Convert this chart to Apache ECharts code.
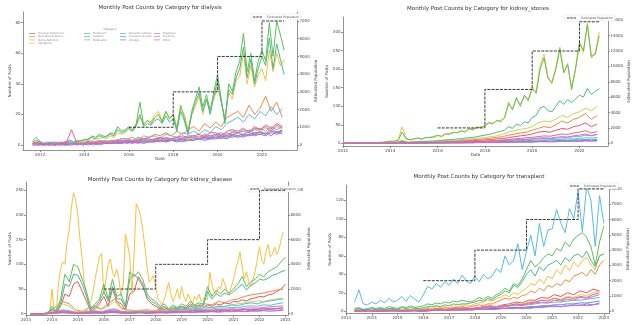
<!DOCTYPE html>
<html><head><meta charset="utf-8">
<script src="https://cdn.jsdelivr.net/npm/echarts@6/dist/echarts.min.js"></script>
<style>html,body{margin:0;padding:0;background:#fff}#c{width:632px;height:325px}</style>
</head><body><div id="c"></div>
<script>
// ---------- categories & colours ----------
const categories = ['Personal Experience','Questions & Advice','Diet & Nutrition','Symptoms','Treatment','Support','Medication','Research & News','Insurance & Cost','Lifestyle','Diagnosis','Recovery','Other'];
const palette = ['#e8575e','#f0894a','#f5c040','#c9d651','#5cc05a','#4db88a','#50c6c9','#56bde0','#5d8fe0','#8a6ee0','#c46ee0','#e66ac6','#e8638f'];

// ---------- estimated population (step) ----------
const popYears = [2016, 2018, 2020, 2022];
const diaPop = [1000, 3000, 5000, 7000];
const stPop = [2000, 7000, 12000, 15800];
const kdPop = [2000, 4000, 6000, 10000];
const txPop = [2000, 4000, 6000, 8000];

// ---------- tick labels ----------
const diaXTicks = [2012,2014,2016,2018,2020,2022];
const stXTicks = [2012,2014,2016,2018,2020,2022];
const kdXTicks = [2013,2014,2015,2016,2017,2018,2019,2020,2021,2022,2023];
const txXTicks = [2013,2014,2015,2016,2017,2018,2019,2020,2021,2022,2023];
const diaYTicks = [0,20,40,60,80];
const diaRTicks = [0,1000,2000,3000,4000,5000,6000,7000];
const stYTicks = [0,50,100,150,200,250,300];
const stRTicks = [0,2000,4000,6000,8000,10000,12000,14000,16000];
const kdYTicks = [0,50,100,150,200,250];
const kdRTicks = [0,2000,4000,6000,8000,10000];
const txYTicks = [0,20,40,60,80,100,120];
const txRTicks = [0,1000,2000,3000,4000,5000,6000,7000,8000];

// ---------- dialysis (bimonthly from 2011-09) ----------
const dia_green = [3,5,2,1,1,2,1,2, 1,2,3,2,3,2, 4,3,6,5,7,6, 5,8,7,12,9,10, 12,10,14,28,13,16, 14,18,20,15,22,17, 20,10,26,18,8,22, 30,38,25,33,22,35, 46,30,14,40,35,48, 55,73,48,60,42,55, 62,55,80,58,81,72, 62];
const dia_tealgreen = [2,3,2,1,2,1,2,1, 2,1,3,2,2,3, 3,4,5,4,6,5, 6,7,6,10,8,9, 11,9,13,20,12,14, 13,16,17,14,19,15, 17,9,22,16,7,20, 28,34,22,30,20,32, 42,28,16,36,33,44, 50,64,44,56,40,50, 58,52,70,50,66,56, 46];
const dia_golden = [1,2,1,1,1,1,1,1, 1,1,2,1,2,1, 2,3,3,4,4,5, 4,6,5,8,7,8, 10,9,12,18,14,16, 15,20,22,16,22,18, 20,12,24,20,10,20, 25,32,20,30,24,30, 38,28,18,34,30,42, 45,60,40,52,38,46, 50,42,62,48,60,52, 56];
// dialysis (quarterly from 2011-09)
const dia_orange = [1,0,1,1,0, 1,2,1,1, 2,1,2,3, 2,3,3,4, 4,5,3,6, 5,7,6,8, 6,9,7,10, 12,9,14,11, 15,12,18,20, 22,18,26,20, 24,32,22,28, 18];
const dia_lightblue = [1,1,0,1,1, 1,1,2,1, 1,2,2,2, 3,2,3,4, 4,3,5,4, 5,6,4,7, 6,5,8,7, 9,7,10,8, 12,10,14,16, 18,15,20,17, 22,19,25,20, 24];
const dia_red = [2,1,1,0,1, 1,2,1,1, 1,2,1,2, 2,2,3,2, 3,2,4,3, 3,4,5,3, 4,3,5,4, 5,4,6,5, 7,5,8,6, 8,6,10,7, 9,7,11,8, 10];
const dia_yg = [1,0,1,0,1, 0,1,1,2, 1,1,2,1, 2,2,1,3, 2,3,3,2, 3,4,3,4, 4,3,5,4, 5,6,4,6, 6,5,7,8, 8,7,9,10, 9,11,10,12, 10];
const dia_teal = [0,1,0,1,0, 1,0,1,1, 1,2,1,1, 2,1,2,2, 2,3,2,3, 3,2,4,3, 3,4,4,5, 5,4,6,5, 6,7,6,8, 8,9,8,10, 11,9,12,10, 12];
const dia_blue = [0,0,1,0,0, 1,0,0,1, 0,1,1,0, 1,1,1,2, 1,2,2,1, 2,2,3,2, 3,2,3,3, 3,4,3,4, 4,5,4,6, 5,6,6,7, 7,6,8,7, 8];
const dia_purple = [0,1,0,0,1, 0,0,1,0, 1,0,1,1, 1,1,2,1, 2,1,2,2, 2,3,2,3, 3,3,4,3, 4,4,5,4, 5,6,5,7, 6,7,7,8, 8,7,9,8, 9];
const dia_violet = [1,0,0,1,0, 0,1,0,1, 0,1,0,1, 1,2,1,1, 2,2,1,2, 2,2,3,2, 3,3,2,3, 3,4,4,5, 5,4,6,5, 6,5,7,6, 7,8,6,9, 7];
const dia_magenta = [0,1,1,0,1, 1,2,1,0, 1,1,2,1, 2,1,2,3, 2,3,2,4, 3,4,3,5, 4,5,4,6, 6,5,7,6, 7,8,6,9, 8,10,9,11, 10,12,9,13, 11];
const dia_pink = [1,2,0,1,0, 1,1,10,1, 1,2,1,2, 2,1,3,2, 3,2,3,4, 4,3,5,4, 4,5,6,5, 6,7,5,8, 8,6,9,10, 9,11,8,12, 10,13,11,14, 12];

// ---------- kidney_stones (bimonthly from 2012-01) ----------
const st_green = [0,0,0,1,0,1, 1,1,2,2,3,4, 5,6,8,30,12,10, 12,14,11,16,15,18, 22,18,26,24,30,28, 34,30,40,36,44,42, 48,56,52,62,58,70, 110,90,124,100,130,115, 150,135,200,230,175,165, 200,255,190,215,145,200, 270,250,320,235,240,290];
const st_golden = [0,1,0,0,1,0, 1,2,1,3,2,4, 6,5,10,44,14,9, 11,15,12,15,17,16, 20,20,24,27,28,30, 32,33,38,40,42,45, 46,54,55,60,62,68, 105,95,118,106,125,120, 145,140,210,240,180,160, 205,260,195,210,150,205, 275,245,325,230,245,300];
const st_tealgreen = [0,0,0,0,0,0, 0,1,1,1,1,2, 2,2,3,6,3,3, 4,4,5,5,6,6, 7,8,9,10,10,12, 12,14,15,16,18,20, 22,24,26,30,32,36, 45,40,52,48,58,55, 70,75,95,100,88,85, 100,115,105,118,110,120, 130,125,148,132,140,148];
// kidney_stones (quarterly from 2012-01)
const st_yg = [0,0,0,0, 0,1,1,1, 2,3,8,3, 3,4,4,5, 6,7,8,8, 10,11,12,14, 16,18,20,24, 30,34,38,40, 45,55,60,58, 65,75,70,80, 85,95,88,100];
const st_orange = [0,0,0,0, 0,1,1,1, 1,2,5,2, 3,3,4,4, 5,6,6,7, 8,9,10,11, 12,14,16,18, 22,25,28,30, 35,40,45,42, 50,60,55,65, 70,80,65,75];
const st_red = [0,0,0,0, 0,0,1,1, 1,1,3,2, 2,2,3,3, 4,4,5,5, 6,7,7,8, 9,10,12,13, 15,18,20,22, 25,30,32,30, 35,40,38,45, 48,55,45,52];
const st_pink = [0,0,0,0, 0,0,0,1, 1,1,2,1, 1,2,2,2, 3,3,3,4, 4,5,5,6, 6,7,8,9, 10,12,13,15, 16,18,20,19, 22,25,24,28, 30,34,28,32];
const st_magenta = [0,0,0,0, 0,0,0,0, 1,1,1,1, 1,1,2,2, 2,2,3,3, 3,4,4,4, 5,5,6,7, 8,9,10,11, 12,14,15,14, 16,18,17,20, 22,25,21,24];
const st_lightblue = [0,0,0,0, 0,0,1,1, 1,1,2,1, 1,2,2,2, 2,3,3,3, 4,4,4,5, 5,6,6,7, 8,9,9,10, 11,12,13,12, 14,15,16,18, 18,22,20,24];
const st_teal = [0,0,0,0, 0,0,0,0, 1,1,1,1, 1,1,1,2, 2,2,2,3, 3,3,3,4, 4,4,5,5, 6,6,7,7, 8,9,9,10, 10,11,12,12, 13,15,14,16];
const st_blue = [0,0,0,0, 0,0,0,0, 0,1,1,0, 1,1,1,1, 1,1,2,2, 2,2,2,3, 3,3,3,4, 4,5,5,5, 6,6,7,6, 7,8,8,9, 9,10,9,11];
const st_purple = [0,0,0,0, 0,0,0,0, 0,0,1,0, 0,1,1,1, 1,1,1,1, 1,2,2,2, 2,2,3,3, 3,3,4,4, 4,5,5,5, 5,6,6,7, 7,8,7,8];
const st_violet = [0,0,0,0, 0,0,0,0, 0,0,0,0, 0,0,1,1, 1,1,1,1, 1,1,1,2, 2,2,2,2, 2,3,3,3, 3,4,4,4, 4,5,5,5, 5,6,6,6];

// ---------- kidney_disease ----------
// monthly from 2013-03
const kd_golden = [0,0,0,0,0,0,0,0,0,0,
 50,10,0,60,90,105,100,145,170,215,245,230,
 200,150,110,60,40,18,25,45,71,95,115,122,
 38,70,100,111,85,75,90,70,35,60,162,140,
 115,40,120,223,213,200,170,135,95,64,70,78,
 55,30,25,18,30,45,64,40,25,35,50,30,
 55,35,25,40,30,20,35,28,40,25,30,32,
 28,84,60,45,40,55,50,71,60,45,40,55,
 70,90,105,125,95,70,85,65,55,70,85,110,
 135,110,100,125,140,115,120,135,120,130,150,165];
// bimonthly from 2013-03
const kd_green = [0,0,0,0,0, 15,5,30,80,65,100,95, 70,45,10,20,30,60, 30,70,35,40,15,85, 75,85,70,40,30,25, 15,20,10,18,12,20, 15,25,18,22,20,55, 35,48,40,50,42,50, 60,75,55,65,70,80, 75,85,90,95,105,115];
const kd_tealgreen = [0,0,0,0,0, 10,3,20,60,55,80,78, 60,35,8,15,25,45, 25,55,30,30,12,70, 80,70,55,35,25,20, 12,15,8,14,10,15, 12,20,14,18,16,45, 30,40,35,42,38,45, 52,60,48,58,62,70, 68,72,78,80,85,88];
const kd_red = [0,0,0,0,0, 8,2,15,40,35,60,65, 45,25,5,10,20,35, 15,50,25,20,8,40, 45,75,60,30,20,15, 10,12,8,10,9,12, 10,15,12,14,13,18, 15,20,18,22,20,25, 24,28,26,30,32,35, 34,38,40,45,50,60];
// quarterly from 2013-03
const kd_orange = [0,0,0, 5,15,25,20, 8,5,12,15, 10,20,30,12, 8,6,7,8, 6,9,8,10, 15,12,18,16, 20,18,25,22, 28,30,35,38, 40,42,45,48, 50];
const kd_yg = [0,0,0, 3,10,20,15, 5,4,8,12, 8,15,25,10, 6,5,6,6, 5,7,6,8, 10,9,12,11, 14,12,16,15, 18,20,22,24, 26,25,28,30, 32];
const kd_lightblue = [0,0,0, 2,5,8,6, 3,3,5,6, 4,8,10,5, 4,4,5,5, 4,6,5,7, 10,8,12,10, 14,12,15,14, 18,16,20,22, 20,24,26,28, 30];
const kd_teal = [0,0,0, 1,3,5,4, 2,2,3,4, 3,5,6,3, 3,3,4,4, 3,5,4,6, 8,7,9,8, 10,9,12,11, 13,12,15,16, 15,18,17,20, 22];
const kd_blue = [0,0,0, 1,2,3,2, 1,1,2,3, 2,3,4,2, 2,2,3,2, 3,3,2,4, 5,4,6,5, 6,5,7,6, 8,7,9,8, 9,10,9,11, 12];
const kd_purple = [0,0,0, 1,2,2,2, 1,1,1,2, 1,2,3,2, 1,2,2,1, 2,2,3,2, 3,4,3,5, 4,5,4,6, 5,6,5,7, 6,7,8,7, 8];
const kd_violet = [0,0,0, 0,1,2,1, 1,0,1,1, 1,2,2,1, 1,1,2,1, 1,2,1,2, 2,3,2,3, 3,4,3,4, 4,5,4,5, 5,6,5,6, 7];
const kd_magenta = [0,0,0, 2,4,6,5, 2,2,4,5, 3,6,8,4, 3,3,4,3, 4,4,3,5, 6,5,7,6, 8,7,9,8, 10,9,11,12, 11,13,14,15, 16];
const kd_pink = [0,0,0, 1,3,4,3, 1,1,2,3, 2,4,5,2, 2,2,3,2, 2,3,3,4, 5,4,5,6, 6,5,7,6, 8,7,8,9, 9,10,11,10, 12];

// ---------- transplant ----------
// bimonthly from 2013-05
const tx_lightblue = [10,23,8,7,10,8,12,9,14,10, 12,16,11,17,13,10,18,27,24,30, 26,32,28,35,30,39,33,30,38,32, 40,35,38,46,42,60,50,55,73,45, 65,82,60,95,70,88,89,110,95,85, 111,100,129,86,135,120,70,125,95];
const tx_green = [3,4,2,3,4,3,4,3,5,4,3,5,4,6,4,5, 6,8,7,9,8,10,9,11,10,12,11,10, 12,15,13,16,14,18,20,25,22,30,28,35, 45,55,48,52,58,62,60,68,65,75,70,78, 82,85,80,70,50,75,92];
const tx_tealgreen = [2,3,2,2,3,2,3,2,3,3,2,4,3,4,3,3, 4,5,5,6,5,7,6,8,7,8,8,9, 10,12,11,14,12,16,18,22,20,28,26,32, 40,45,38,48,44,50,52,55,50,58,54,60, 62,58,65,55,48,60,62];
const tx_golden = [1,2,1,2,1,2,1,2,2,1,2,2,1,2,2,2, 3,4,3,5,4,5,4,6,5,6,7,6, 8,9,10,12,11,14,15,18,16,20,18,22, 25,30,28,35,30,38,35,45,40,50,44,53, 48,55,58,50,45,60,62];
const tx_orange = [1,1,2,1,1,2,1,1,2,1,2,1,2,1,2,2, 2,3,2,3,3,4,3,4,4,5,4,5, 6,7,6,8,8,10,12,14,13,15,14,17, 18,22,20,25,22,28,26,30,28,34,32,38, 40,42,38,45,40,50,55];
// quarterly from 2013-05
const tx_red = [1,2,1,1,2,1,2,1,2,2,1,2, 2,3,2,3,3,4,3,4, 5,6,5,7,8,10,9,12, 12,15,14,18,16,20,18,22, 20,24,22];
const tx_pink = [0,1,1,0,1,1,1,0,1,1,1,1, 1,2,2,2,3,2,3,3, 4,5,4,6,6,8,7,9, 10,12,11,14,12,15,14,16, 15,18,20];
const tx_magenta = [1,0,1,1,1,0,1,1,0,1,1,1, 2,2,1,2,2,3,2,3, 3,4,5,4,6,7,6,8, 9,10,9,12,11,13,12,15, 14,16,18];
const tx_yg = [0,1,0,1,1,1,0,1,1,1,1,1, 1,2,2,2,2,3,3,3, 4,5,5,6,7,8,8,10, 10,12,12,14,13,16,15,18, 17,20,22];
const tx_teal = [1,1,1,0,1,1,1,1,1,1,1,1, 2,2,2,2,3,3,3,3, 4,4,5,5,6,6,7,7, 8,9,9,10,10,11,12,12, 13,14,15];
const tx_blue = [0,0,1,0,0,1,0,1,0,1,0,1, 1,1,1,2,1,2,2,2, 2,3,3,3,4,4,4,5, 5,6,6,7,7,8,8,9, 9,10,11];
const tx_purple = [0,0,0,1,0,0,1,0,0,1,0,0, 1,1,1,1,2,1,2,2, 2,2,3,3,3,4,3,4, 4,5,5,6,5,6,7,6, 8,7,9];
const tx_violet = [0,0,1,0,0,0,1,0,0,0,1,0, 1,1,1,1,1,2,1,2, 2,2,2,3,3,3,4,3, 4,4,5,5,5,6,6,7, 6,7,8];

// ---------- build ----------
function pts(y, m, step, arr) { return arr.map((v, i) => [y + (m - 1 + i * step) / 12, v]); }

const panels = [
  { title: 'Monthly Post Counts by Category for dialysis', tx: 160, ty: 8,
    grid: { left: 23, top: 12, width: 274, height: 138 },
    x: [2011.23, 2023.58], xt: diaXTicks, yl: [-3.3, 87], ylt: diaYTicks, yr: [-282, 7510], yrt: diaRTicks,
    pop: diaPop, popEnd: 2023.0, showDate: true, legend: { left: 251, top: 14 },
    lines: [[0, dia_red, 2011, 9, 3], [1, dia_orange, 2011, 9, 3], [2, dia_golden, 2011, 9, 2], [3, dia_yg, 2011, 9, 3],
      [4, dia_green, 2011, 9, 2], [5, dia_tealgreen, 2011, 9, 2], [6, dia_teal, 2011, 9, 3], [7, dia_lightblue, 2011, 9, 3],
      [8, dia_blue, 2011, 9, 3], [9, dia_purple, 2011, 9, 3], [10, dia_violet, 2011, 9, 3], [11, dia_magenta, 2011, 9, 3], [12, dia_pink, 2011, 9, 3]] },
  { title: 'Monthly Post Counts by Category for kidney_stones', tx: 478, ty: 9,
    grid: { left: 343, top: 17, width: 266, height: 129 },
    x: [2012.0, 2023.2], xt: stXTicks, yl: [-7.3, 341], ylt: stYTicks, yr: [-351, 16424], yrt: stRTicks,
    pop: stPop, popEnd: 2022.83, showDate: true, legend: { left: 565, top: 15 },
    lines: [[0, st_red, 2012, 1, 3], [1, st_orange, 2012, 1, 3], [2, st_golden, 2012, 1, 2], [3, st_yg, 2012, 1, 3],
      [4, st_green, 2012, 1, 2], [5, st_tealgreen, 2012, 1, 2], [6, st_teal, 2012, 1, 3], [7, st_lightblue, 2012, 1, 3],
      [8, st_blue, 2012, 1, 3], [9, st_purple, 2012, 1, 3], [10, st_violet, 2012, 1, 3], [11, st_magenta, 2012, 1, 3], [12, st_pink, 2012, 1, 3]] },
  { title: 'Monthly Post Counts by Category for kidney_disease', tx: 160, ty: 180,
    grid: { left: 26, top: 182, width: 262, height: 133.5 },
    x: [2013.0, 2023.1], xt: kdXTicks, yl: [-3.6, 266.9], ylt: kdYTicks, yr: [-146, 10672], yrt: kdRTicks,
    pop: kdPop, popEnd: 2023.0, showDate: false, legend: { left: 248, top: 186 },
    lines: [[0, kd_red, 2013, 3, 2], [1, kd_orange, 2013, 3, 3], [2, kd_golden, 2013, 3, 1], [3, kd_yg, 2013, 3, 3],
      [4, kd_green, 2013, 3, 2], [5, kd_tealgreen, 2013, 3, 2], [6, kd_teal, 2013, 3, 3], [7, kd_lightblue, 2013, 3, 3],
      [8, kd_blue, 2013, 3, 3], [9, kd_purple, 2013, 3, 3], [10, kd_violet, 2013, 3, 3], [11, kd_magenta, 2013, 3, 3], [12, kd_pink, 2013, 3, 3]] },
  { title: 'Monthly Post Counts by Category for transplant', tx: 479, ty: 177,
    grid: { left: 346, top: 185, width: 263, height: 128.7 },
    x: [2013.0, 2023.2], xt: txXTicks, yl: [-2.6, 136.5], ylt: txYTicks, yr: [-157, 8255], yrt: txRTicks,
    pop: txPop, popEnd: 2023.0, showDate: false, legend: { left: 568, top: 183 },
    lines: [[0, tx_red, 2013, 5, 3], [1, tx_orange, 2013, 5, 2], [2, tx_golden, 2013, 5, 2], [3, tx_yg, 2013, 5, 3],
      [4, tx_green, 2013, 5, 2], [5, tx_tealgreen, 2013, 5, 2], [6, tx_teal, 2013, 5, 3], [7, tx_lightblue, 2013, 5, 2],
      [8, tx_blue, 2013, 5, 3], [9, tx_purple, 2013, 5, 3], [10, tx_violet, 2013, 5, 3], [11, tx_magenta, 2013, 5, 3], [12, tx_pink, 2013, 5, 3]] }
];

const axisLineStyle = { color: '#777', width: 0.8 };
const labelFmt = v => String(Math.round(v));
const grids = [], xAxes = [], yAxes = [], series = [], legends = [], graphics = [];
const dashIcon = 'path://M0,0h3v1h-3z M4,0h3v1h-3z M8,0h3v1h-3z';

panels.forEach((p, gi) => {
  grids.push(Object.assign({ containLabel: false }, p.grid));
  xAxes.push({ type: 'value', gridIndex: gi, min: p.x[0], max: p.x[1],
    axisLine: { show: true, onZero: false, lineStyle: axisLineStyle },
    axisTick: { show: true, length: 2, customValues: p.xt, lineStyle: axisLineStyle },
    axisLabel: { customValues: p.xt, fontSize: 4, color: '#444', margin: 2.5, formatter: labelFmt, fontFamily: 'DejaVu Sans' },
    splitLine: { show: false },
    name: p.showDate ? 'Date' : '', nameLocation: 'middle', nameGap: 5,
    nameTextStyle: { fontSize: 4, color: '#444', fontFamily: 'DejaVu Sans' } });
  yAxes.push({ type: 'value', gridIndex: gi, position: 'left', min: p.yl[0], max: p.yl[1],
    axisLine: { show: true, onZero: false, lineStyle: axisLineStyle },
    axisTick: { show: true, length: 2, customValues: p.ylt, lineStyle: axisLineStyle },
    axisLabel: { customValues: p.ylt, fontSize: 4, color: '#444', margin: 2.5, formatter: labelFmt, fontFamily: 'DejaVu Sans' },
    splitLine: { show: false },
    name: 'Number of Posts', nameLocation: 'middle', nameGap: 10, nameRotate: 90,
    nameTextStyle: { fontSize: 4, color: '#444', fontFamily: 'DejaVu Sans' } });
  yAxes.push({ type: 'value', gridIndex: gi, position: 'right', min: p.yr[0], max: p.yr[1],
    axisLine: { show: true, onZero: false, lineStyle: axisLineStyle },
    axisTick: { show: true, length: 2, customValues: p.yrt, lineStyle: axisLineStyle },
    axisLabel: { customValues: p.yrt, fontSize: 4, color: '#444', margin: 2.5, formatter: labelFmt, fontFamily: 'DejaVu Sans' },
    splitLine: { show: false },
    name: 'Estimated Population', nameLocation: 'middle', nameGap: 13, nameRotate: 90,
    nameTextStyle: { fontSize: 4, color: '#444', fontFamily: 'DejaVu Sans' } });

  p.lines.forEach(([cat, arr, y, m, step]) => {
    series.push({ type: 'line', name: categories[cat], xAxisIndex: gi, yAxisIndex: gi * 2,
      data: pts(y, m, step, arr), showSymbol: false, symbol: 'none', silent: true, animation: false,
      lineStyle: { width: 1, color: palette[cat] }, itemStyle: { color: palette[cat] }, z: 2 + cat * 0.01 });
  });
  const popData = popYears.map((yy, i) => [yy, p.pop[i]]);
  popData.push([p.popEnd, p.pop[p.pop.length - 1]]);
  series.push({ type: 'line', name: 'Estimated Population', xAxisIndex: gi, yAxisIndex: gi * 2 + 1,
    data: popData, step: 'end', showSymbol: false, symbol: 'none', silent: true, animation: false,
    lineStyle: { width: 1, color: '#3a3a3a', type: [3, 1.2] }, itemStyle: { color: '#3a3a3a' }, z: 5 });

  legends.push({ data: ['Estimated Population'], left: p.legend.left, top: p.legend.top, orient: 'vertical',
    icon: dashIcon, itemWidth: 9, itemHeight: 0.9, itemGap: 0, padding: [1.5, 2], selectedMode: false,
    borderColor: '#ddd', borderWidth: 0.5, backgroundColor: '#fff',
    textStyle: { fontSize: 3, color: '#555', fontFamily: 'DejaVu Sans' } });
  graphics.push({ type: 'text', x: p.tx, y: p.ty, style: { text: p.title, fontSize: 5.5, fill: '#333',
    fontFamily: 'DejaVu Sans', textAlign: 'center', textVerticalAlign: 'middle' } });
});

// category legend (dialysis panel), 4 columns
const legendCols = [[0, 4, 29], [4, 7, 84], [7, 10, 120], [10, 13, 154]];
legendCols.forEach(([a, b, x]) => {
  legends.push({ data: categories.slice(a, b), left: x, top: 32, orient: 'vertical',
    icon: 'rect', itemWidth: 6, itemHeight: 0.7, itemGap: 0.2, padding: 0, selectedMode: false,
    textStyle: { fontSize: 2.6, color: '#888', fontFamily: 'DejaVu Sans', padding: [0, 0, 0, -2] } });
});
graphics.push({ type: 'text', x: 110, y: 29.5, style: { text: 'Category', fontSize: 2.8, fill: '#777',
  fontFamily: 'DejaVu Sans', textAlign: 'center', textVerticalAlign: 'middle' } });

const chart = echarts.init(document.getElementById('c'), null, { renderer: 'canvas' });
chart.setOption({
  animation: false, backgroundColor: '#fff',
  grid: grids, xAxis: xAxes, yAxis: yAxes, series: series, legend: legends, graphic: graphics
});
</script></body></html>
